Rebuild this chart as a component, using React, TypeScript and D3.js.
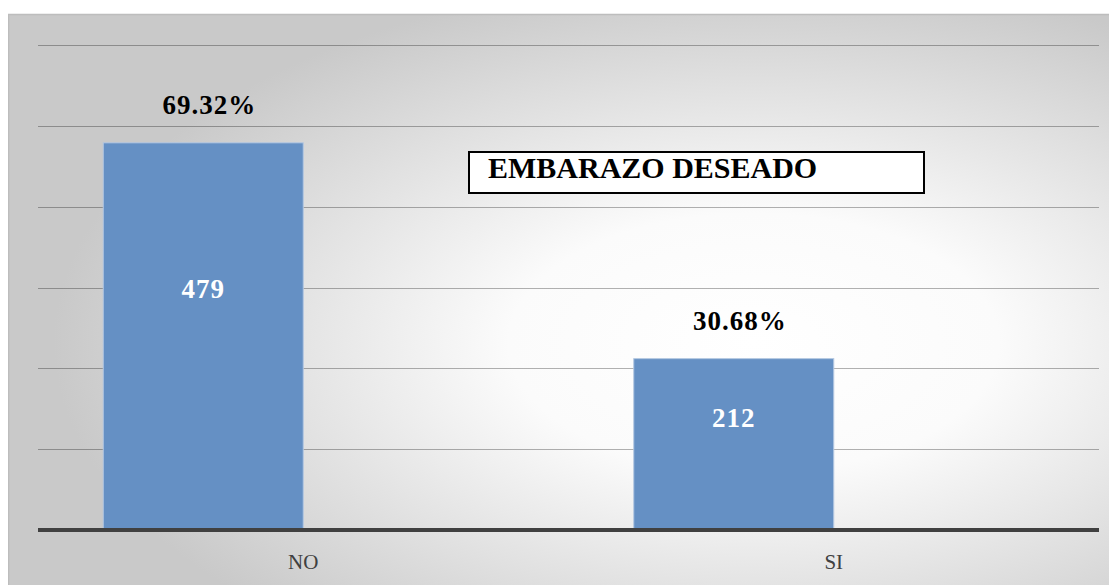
import React from "react";
import * as d3 from "d3";

// categories and counts
const categories: string[] = ["NO", "SI"];
const counts: number[] = [479, 212];
// Excel chart carries a second, empty series -> bars sit in the left half of each group
const seriesKeys: string[] = ["casos", "vacio"];
const yTicks: number[] = [0, 100, 200, 300, 400, 500, 600];
const chartTitle = "EMBARAZO DESEADO";

const W = 1109;
const H = 577;
const plot = { left: 30, right: 1091, top: 37, bottom: 522 };

const serif = "'Liberation Serif', 'DejaVu Serif', serif";

const App: React.FC = () => {
  const total = d3.sum(counts);

  const x0 = d3
    .scaleBand<string>()
    .domain(categories)
    .range([plot.left, plot.right])
    .paddingInner(0.246)
    .paddingOuter(0.123);

  const x1 = d3
    .scaleBand<string>()
    .domain(seriesKeys)
    .range([0, x0.bandwidth()])
    .padding(0);

  const y = d3.scaleLinear().domain([0, 600]).range([plot.bottom, plot.top]);

  return (
    <svg width={W} height={H} style={{ display: "block" }}>
      <defs>
        <radialGradient id="bgGrad" cx="0.66" cy="0.55" r="0.62" fx="0.66" fy="0.55">
          <stop offset="0" stopColor="#ffffff" />
          <stop offset="0.35" stopColor="#fbfbfb" />
          <stop offset="1" stopColor="#c9c9c9" />
        </radialGradient>
      </defs>

      {/* chart frame */}
      <rect
        x={0.5}
        y={6.5}
        width={W + 20}
        height={H + 20}
        fill="url(#bgGrad)"
        stroke="#bdbdbd"
        strokeWidth={1.5}
      />

      {/* gridlines */}
      <g>
        {yTicks
          .filter((t) => t > 0)
          .map((t) => (
            <line
              key={t}
              x1={plot.left}
              x2={plot.right}
              y1={Math.round(y(t)) + 0.5}
              y2={Math.round(y(t)) + 0.5}
              stroke="#000"
              strokeOpacity={0.3}
              strokeWidth={1}
            />
          ))}
      </g>

      {/* bars */}
      <g>
        {categories.map((c, i) => {
          const bx = x0(c)! + x1(seriesKeys[0])!;
          const bw = x1.bandwidth();
          const top = y(counts[i]);
          return (
            <g key={c}>
              <rect
                x={bx}
                y={top}
                width={bw}
                height={plot.bottom - top}
                fill="#6590c4"
                stroke="#b4c8e2"
                strokeWidth={1}
              />
              <text
                x={bx + bw / 2}
                y={y(counts[i] * 0.6)}
                textAnchor="middle"
                fontFamily={serif}
                fontWeight="bold"
                fontSize={27}
                letterSpacing={1}
                fill="#ffffff"
              >
                {counts[i]}
              </text>
              <text
                x={bx + bw / 2 + 6}
                y={top - 29}
                textAnchor="middle"
                fontFamily={serif}
                fontWeight="bold"
                fontSize={27}
                letterSpacing={1}
                fill="#000"
              >
                {((counts[i] / total) * 100).toFixed(2) + "%"}
              </text>
            </g>
          );
        })}
      </g>

      {/* x axis */}
      <line
        x1={plot.left}
        x2={plot.right}
        y1={plot.bottom}
        y2={plot.bottom}
        stroke="#404040"
        strokeWidth={4}
      />
      {categories.map((c) => (
        <text
          key={c}
          x={x0(c)! + x0.bandwidth() / 2}
          y={plot.bottom + 39}
          textAnchor="middle"
          fontFamily={serif}
          fontSize={21}
          fill="#404040"
        >
          {c}
        </text>
      ))}

      {/* title box */}
      <rect x={461} y={144} width={455} height={41} fill="#ffffff" stroke="#000" strokeWidth={2} />
      <text x={480} y={170} fontFamily={serif} fontWeight="bold" fontSize={30} fill="#000">
        {chartTitle}
      </text>
    </svg>
  );
};

export default App;
